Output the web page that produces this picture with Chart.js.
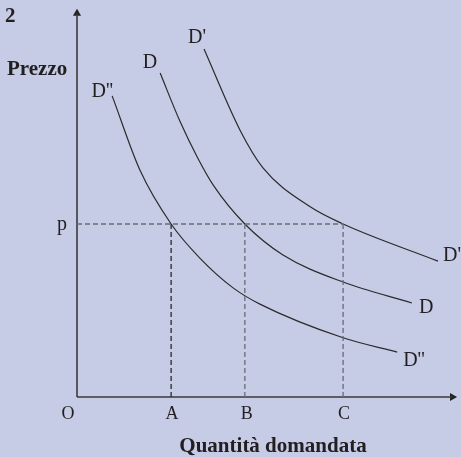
<!DOCTYPE html>
<html>
<head>
<meta charset="utf-8">
<script src="https://cdn.jsdelivr.net/npm/chart.js@4/dist/chart.umd.min.js"></script>
<style>
html,body{margin:0;padding:0;background:#c6cbe6;}
canvas{display:block;}
</style>
</head>
<body>
<canvas id="c" width="461" height="457"></canvas>
<script>
// ---- data (abstract units 0..100) ----
const curveNames = ["D''", "D", "D'"];
const demandDpp = [[9.3,77.8],[16.7,58.5],[24.9,44.7],[32.5,35.9],[41.3,28.2],[48.4,24.0],[70.4,15.3],[84.7,11.6]];
const demandD   = [[22.0,83.7],[27.3,71.1],[31.8,62.0],[36.0,54.8],[44.4,44.7],[54.5,36.7],[70.4,29.7],[88.6,24.3]];
const demandDp  = [[33.6,89.9],[43.1,69.0],[49.2,59.2],[61.6,49.2],[70.4,44.7],[95.5,35.1]];
const priceP = 44.7;
const qtyLabels = ["A","B","C"];
const qtyValues = [24.9, 44.4, 70.4];
const axisMax = {x: 99.3, y: 99.1};

const pts = a => a.map(([x,y]) => ({x, y}));
const ink = '#231f20';

const datasets = [];
// dashed guide lines
datasets.push({data: [{x:0,y:priceP},{x:qtyValues[2],y:priceP}], borderColor:'#6a6c78', borderWidth:1.3, borderDash:[5,3]});
qtyValues.forEach((q,i) => datasets.push({data:[{x:q,y:0},{x:q,y:priceP}], borderColor: i===0 ? '#2a2a2a' : '#6a6c78', borderWidth:1.3, borderDash:[5,3]}));
// axes
datasets.push({data:[{x:0,y:0},{x:0,y:axisMax.y}], borderColor:'#3a3a3a', borderWidth:1.6});
datasets.push({data:[{x:0,y:0},{x:axisMax.x,y:0}], borderColor:'#3a3a3a', borderWidth:1.6});
// arrow heads
datasets.push({data:[{x:0,y:axisMax.y}], pointStyle:'triangle', pointRadius:4.7, pointRotation:0, backgroundColor:'#222', borderColor:'#222', borderWidth:0, showLine:false});
datasets.push({data:[{x:axisMax.x,y:0}], pointStyle:'triangle', pointRadius:4.7, pointRotation:90, backgroundColor:'#222', borderColor:'#222', borderWidth:0, showLine:false});
// demand curves
[demandDpp, demandD, demandDp].forEach(c => datasets.push({data: pts(c), borderColor:'#2b2b2b', borderWidth:1.2, cubicInterpolationMode:'monotone'}));

datasets.forEach(d => { d.clip = false; if (d.pointRadius === undefined) d.pointRadius = 0; d.fill = false; });

const labelPlugin = {
  id: 'labels',
  afterDatasetsDraw(chart) {
    const {ctx, scales:{x, y}} = chart;
    const X = v => x.getPixelForValue(v), Y = v => y.getPixelForValue(v);
    ctx.save();
    ctx.fillStyle = ink;
    ctx.textBaseline = 'alphabetic';
    ctx.font = 'bold 21px "Liberation Serif"';
    ctx.textAlign = 'left';
    ctx.fillText('2', 5, 22);
    ctx.fillText('Prezzo', 7, 75);
    ctx.textAlign = 'center';
    ctx.fillText('Quantità domandata', 273, 452);
    ctx.font = '20px "Liberation Serif"';
    ctx.textAlign = 'right';
    ctx.fillText('p', X(0) - 10, Y(priceP) + 6);
    ctx.font = '18px "Liberation Serif"';
    ctx.textAlign = 'center';
    ctx.fillText('O', X(0) - 9, Y(0) + 22);
    qtyLabels.forEach((l,i) => ctx.fillText(l, X(qtyValues[i]) + (i===1?2:1), Y(0) + 22));
    ctx.font = '20px "Liberation Serif"';
    const curves = [demandDpp, demandD, demandDp];
    const startOff = [[1,1],[-3,-5],[2,-6]];
    const endOff = [[6,14],[7,10],[5,0]];
    curves.forEach((c,i) => {
      const s = c[0], e = c[c.length-1];
      ctx.textAlign = 'right';
      ctx.fillText(curveNames[i], X(s[0]) + startOff[i][0], Y(s[1]) + startOff[i][1]);
      ctx.textAlign = 'left';
      ctx.fillText(curveNames[i], X(e[0]) + endOff[i][0], Y(e[1]) + endOff[i][1]);
    });
    ctx.restore();
  }
};

new Chart(document.getElementById('c'), {
  type: 'line',
  data: { datasets },
  options: {
    responsive: false,
    animation: false,
    layout: { padding: { left: 77, right: 6, top: 10, bottom: 60 } },
    scales: {
      x: { type:'linear', min:0, max:100, display:false },
      y: { type:'linear', min:0, max:100, display:false }
    },
    plugins: { legend:{display:false}, tooltip:{enabled:false} }
  },
  plugins: [labelPlugin]
});
</script>
</body>
</html>
